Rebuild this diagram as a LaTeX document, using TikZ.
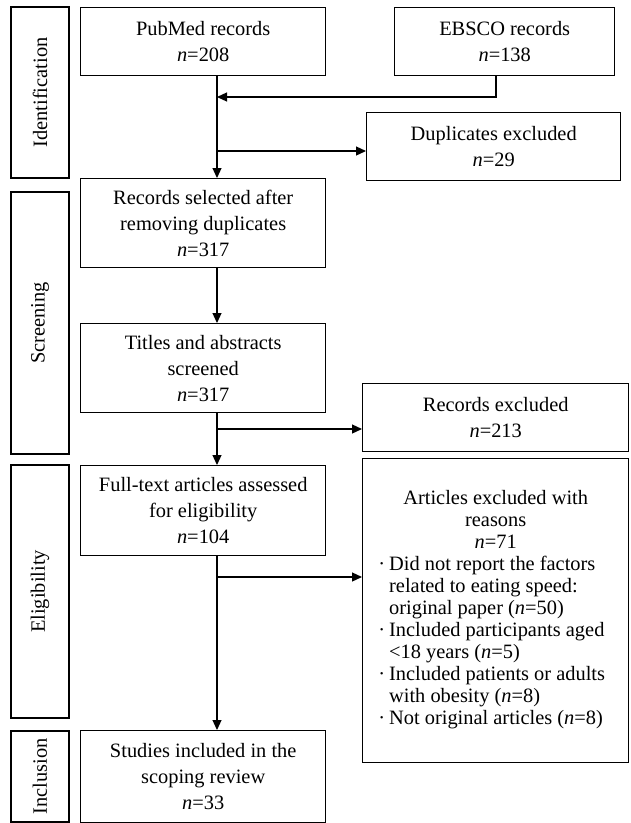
\documentclass[tikz,border=0pt]{standalone}
\usepackage{fontspec}
\setmainfont{Liberation Serif}
\usetikzlibrary{arrows.meta}
\newcommand{\nn}[1]{\textit{n}=#1}
\tikzset{
  box/.style={draw, line width=1.4pt, align=center, inner sep=2pt, anchor=north west, font=\fontsize{20.4}{26}\selectfont},
  stage/.style={draw, line width=1.4pt, rotate=90, minimum height=58, inner sep=0pt, font=\fontsize{20.4}{26}\selectfont},
  arr/.style={line width=1.2pt, -{Triangle[length=10pt,width=9pt]}}
}
\begin{document}
\begin{tikzpicture}[x=1pt,y=-1pt]
\useasboundingbox (0,0) rectangle (630,823);
\node[stage, minimum width=171] (ident) at (40,92.5) {Identification};
\node[stage, minimum width=262] (screen) at (40,323) {Screening};
\node[stage, minimum width=253] (elig) at (40,591.5) {Eligibility};
\node[stage, minimum width=91] (incl) at (40,776.5) {Inclusion};
\node[box, minimum width=245, minimum height=68] (pubmed) at (80,7) {PubMed records\\\nn{208}};
\node[box, minimum width=220, minimum height=68] (ebsco) at (394,7) {EBSCO records\\\nn{138}};
\node[box, minimum width=254, minimum height=68] (dupl) at (366,112) {Duplicates excluded\\\nn{29}};
\node[box, minimum width=245, minimum height=89] (selected) at (80,178) {Records selected after\\removing duplicates\\\nn{317}};
\node[box, minimum width=245, minimum height=89] (titles) at (80,323) {Titles and abstracts\\screened\\\nn{317}};
\node[box, minimum width=266, minimum height=68] (recexcl) at (362,383) {Records excluded\\\nn{213}};
\node[box, minimum width=245, minimum height=90] (fulltext) at (80,465) {Full-text articles assessed\\for eligibility\\\nn{104}};
\node[box, minimum width=266, minimum height=304, font=\fontsize{20.4}{22}\selectfont] (artexcl) at (362,458) {Articles excluded with\\reasons\\\nn{71}\\
  \begin{tabular}[t]{@{}l@{\hspace{4pt}}l@{}}
  ·&Did not report the factors\\
   &related to eating speed:\\
   &original paper (\nn{50})\\
  ·&Included participants aged\\
   &<18 years (\nn{5})\\
  ·&Included patients or adults\\
   &with obesity (\nn{8})\\
  ·&Not original articles (\nn{8})
  \end{tabular}\kern8pt};
\node[box, minimum width=245, minimum height=92] (studies) at (80,730) {Studies included in the\\scoping review\\\nn{33}};
\coordinate (j1) at (217,97);
\coordinate (j2) at (217,151);
\coordinate (j3) at (217,429);
\coordinate (j4) at (217,577);
\coordinate (e1) at (496,97);
\draw[arr] (pubmed.south -| j1) -- (selected.north -| j1);
\draw[arr] (ebsco.south -| e1) -- (e1) -- (j1);
\draw[arr] (j2) -- (dupl.west |- j2);
\draw[arr] (selected.south -| j1) -- (titles.north -| j1);
\draw[arr] (titles.south -| j1) -- (fulltext.north -| j1);
\draw[arr] (j3) -- (recexcl.west |- j3);
\draw[arr] (fulltext.south -| j1) -- (studies.north -| j1);
\draw[arr] (j4) -- (artexcl.west |- j4);
\end{tikzpicture}
\end{document}
